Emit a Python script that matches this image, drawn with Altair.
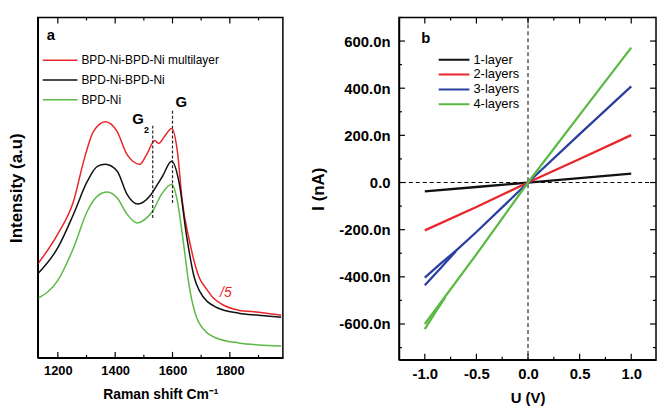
import altair as alt
import pandas as pd

FONT = "Liberation Sans"

# ---------------- Panel a: Raman spectra ----------------
series_a = ["BPD-Ni-BPD-Ni multilayer", "BPD-Ni-BPD-Ni", "BPD-Ni"]
colors_a = ["#e8262b", "#111111", "#5cb946"]

red_x = [1131, 1200, 1255, 1290, 1324, 1366, 1407, 1441, 1486, 1510, 1538, 1552, 1572, 1597, 1617, 1634, 1659, 1693, 1717, 1740, 1772, 1831, 1900, 1979]
red_y = [95, 125, 158, 198, 228, 238, 228, 205, 195, 205, 219, 216, 223, 231, 208, 158, 118, 81, 70, 61, 54, 48, 46, 43]

black_x = [1131, 1200, 1255, 1303, 1338, 1366, 1407, 1441, 1479, 1521, 1548, 1565, 1597, 1624, 1648, 1676, 1693, 1752, 1831, 1900, 1979]
black_y = [85, 111, 145, 178, 193, 195, 188, 165, 155, 163, 175, 183, 198, 175, 125, 81, 68, 51, 45, 43, 41]

green_x = [1131, 1200, 1255, 1303, 1338, 1372, 1407, 1441, 1476, 1510, 1531, 1562, 1597, 1617, 1634, 1659, 1693, 1752, 1831, 1900, 1979]
green_y = [60, 78, 111, 148, 163, 167, 161, 145, 136, 141, 148, 165, 175, 158, 125, 71, 35, 20, 15, 13, 12]

peak_x = [1531, 1600]
peak_y1 = [141, 156]
peak_y2 = [235, 250]

raman_ticks_major = [1200, 1400, 1600, 1800]
raman_ticks_minor = [1300, 1500, 1700, 1900]
raman_domain = [1130, 1985]
int_domain = [0, 343]

# ---------------- Panel b: I-V curves ----------------
series_b = ["1-layer", "2-layers", "3-layers", "4-layers"]
colors_b = ["#111111", "#e8262b", "#2b3fa0", "#5cb946"]

u1 = [-1.0, -0.5, 0.0, 0.5, 1.0]
i1 = [-38, -19, 0, 19, 38]
u2 = [-1.0, -0.5, 0.0, 0.5, 1.0]
i2 = [-203, -104, 0, 100, 201]
u3a = [-1.0, -0.85, -0.7, -0.5, 0.0, 0.5, 1.0]
i3a = [-403, -345, -290, -210, 0, 205, 408]
u3b = [-1.0, -0.85, -0.7]
i3b = [-436, -365, -292]
u4a = [-1.0, -0.5, 0.0, 0.5, 1.0]
i4a = [-600, -305, 0, 287, 572]
u4b = [-1.0, -0.9, -0.8]
i4b = [-622, -552, -486]

u_ticks_major = [-1.0, -0.5, 0.0, 0.5, 1.0]
u_ticks_minor = [-0.75, -0.25, 0.25, 0.75]
i_ticks_major = [-600, -400, -200, 0, 200, 400, 600]
i_ticks_minor = [-700, -500, -300, -100, 100, 300, 500, 700]
u_domain = [-1.25, 1.24]
i_domain = [-752, 700]

WA, HA = 247, 343
WB, HB = 259, 345

# ---------------- build tables ----------------
rows = []
for name, xs, ys in zip(series_a, [red_x, black_x, green_x], [red_y, black_y, green_y]):
    for x, y in zip(xs, ys):
        rows.append({"series": name, "shift": x, "intensity": y})
df_a = pd.DataFrame(rows)

rows = []
for name, sweep, us, iis in [("1-layer", "a", u1, i1), ("2-layers", "a", u2, i2),
                             ("3-layers", "a", u3a, i3a), ("3-layers", "b", u3b, i3b),
                             ("4-layers", "a", u4a, i4a), ("4-layers", "b", u4b, i4b)]:
    for u, i in zip(us, iis):
        rows.append({"series": name, "sweep": name + sweep, "U": u, "I": i})
df_b = pd.DataFrame(rows)

df_peaks = pd.DataFrame({"shift": peak_x, "y1": peak_y1, "y2": peak_y2})

# ---------------- scales and shared axes ----------------
xs_a = alt.Scale(domain=raman_domain, nice=False, zero=False)
ys_a = alt.Scale(domain=int_domain, nice=False, zero=False)
xs_b = alt.Scale(domain=u_domain, nice=False, zero=False)
ys_b = alt.Scale(domain=i_domain, nice=False, zero=False)

ax_xa = alt.Axis(orient="bottom", values=raman_ticks_major, format="d", ticks=False, tickSize=0,
                 domain=True, domainColor="black", domainWidth=1.5, grid=False, labelPadding=7,
                 labelFont=FONT, labelFontSize=13, labelFontWeight="bold", labelColor="black",
                 title="Raman shift Cm\u207b\u00b9", titleFont=FONT, titleFontSize=14,
                 titleFontWeight="bold", titleColor="black", titlePadding=10)
ax_ya = alt.Axis(orient="left", labels=False, ticks=False, tickSize=0, domain=True, domainColor="black",
                 domainWidth=1.5, grid=False,
                 title="Intensity (a.u)", titleFont=FONT, titleFontSize=17,
                 titleFontWeight="bold", titleColor="black", titlePadding=12)

num_expr = "(datum.value < 0 ? '-' : '') + format(abs(datum.value), '.1f')"
ax_xb = alt.Axis(orient="bottom", values=u_ticks_major, labelExpr=num_expr, ticks=False, tickSize=0,
                 domain=True, domainColor="black", domainWidth=1.5, grid=False, labelPadding=7,
                 labelFont=FONT, labelFontSize=15, labelFontWeight="bold", labelColor="black",
                 title="U (V)", titleFont=FONT, titleFontSize=15, titleFontWeight="bold",
                 titleColor="black", titlePadding=9)
ax_yb = alt.Axis(orient="left", values=i_ticks_major,
                 labelExpr="datum.value == 0 ? '0.0' : " + num_expr + " + 'n'",
                 ticks=False, tickSize=0, domain=True, domainColor="black", domainWidth=1.5,
                 grid=False, labelPadding=9,
                 labelFont=FONT, labelFontSize=15, labelFontWeight="bold", labelColor="black",
                 title="I (nA)", titleFont=FONT, titleFontSize=17, titleFontWeight="bold",
                 titleColor="black", titlePadding=11)


def frame(W, H):
    return alt.Chart(pd.DataFrame({"k": [0]})).mark_rect(
        filled=False, stroke="black", strokeWidth=1.5).encode(
        x=alt.value(0), x2=alt.value(W), y=alt.value(0), y2=alt.value(H))


def x_ticks(values, field, scale, axis, size, W, H):
    d = pd.DataFrame({field: values})
    bottom = alt.Chart(d).mark_rule(color="black", strokeWidth=1.2).encode(
        x=alt.X(field + ":Q", scale=scale, axis=axis), y=alt.value(H), y2=alt.value(H - size))
    top = alt.Chart(d).mark_rule(color="black", strokeWidth=1.2).encode(
        x=alt.X(field + ":Q", scale=scale, axis=axis), y=alt.value(0), y2=alt.value(size))
    return [bottom, top]


def y_ticks(values, field, scale, axis, size, W, H):
    d = pd.DataFrame({field: values})
    left = alt.Chart(d).mark_rule(color="black", strokeWidth=1.2).encode(
        y=alt.Y(field + ":Q", scale=scale, axis=axis), x=alt.value(0), x2=alt.value(size))
    right = alt.Chart(d).mark_rule(color="black", strokeWidth=1.2).encode(
        y=alt.Y(field + ":Q", scale=scale, axis=axis), x=alt.value(W), x2=alt.value(W - size))
    return [left, right]


# ---- panel a ----
lines_a = alt.Chart(df_a).mark_line(strokeWidth=1.5, interpolate="monotone").encode(
    x=alt.X("shift:Q", scale=xs_a, axis=ax_xa),
    y=alt.Y("intensity:Q", scale=ys_a, axis=ax_ya),
    color=alt.Color("series:N", scale=alt.Scale(domain=series_a, range=colors_a),
                    legend=alt.Legend(orient="none", legendX=4, legendY=36, title=None,
                                      symbolType="stroke", symbolSize=1225, symbolStrokeWidth=1.5,
                                      labelFont=FONT, labelFontSize=12, labelColor="black",
                                      padding=0, rowPadding=6, clipHeight=14, labelOffset=3)),
    order=alt.Order("shift:Q"),
)

peaks = alt.Chart(df_peaks).mark_rule(strokeDash=[3, 2], strokeWidth=1.2, color="#222").encode(
    x=alt.X("shift:Q", scale=xs_a, axis=ax_xa), y=alt.Y("y1:Q", scale=ys_a, axis=ax_ya), y2="y2:Q")

ann_a = pd.DataFrame({"shift": [1176, 1631, 1480, 1786],
                      "intensity": [325, 258, 241, 65],
                      "txt": ["a", "G", "G", "/5"],
                      "kind": ["b", "b", "b", "r"]})
text_bold = alt.Chart(ann_a[ann_a.kind == "b"]).mark_text(font=FONT, fontSize=15, fontWeight="bold",
                                                          color="black").encode(
    x=alt.X("shift:Q", scale=xs_a, axis=ax_xa), y=alt.Y("intensity:Q", scale=ys_a, axis=ax_ya), text="txt:N")
sub2 = alt.Chart(pd.DataFrame({"shift": [1509], "intensity": [230], "txt": ["2"]})).mark_text(
    font=FONT, fontSize=9, fontWeight="bold", color="black").encode(
    x=alt.X("shift:Q", scale=xs_a, axis=ax_xa), y=alt.Y("intensity:Q", scale=ys_a, axis=ax_ya), text="txt:N")
text_red = alt.Chart(ann_a[ann_a.kind == "r"]).mark_text(font=FONT, fontSize=14, fontStyle="italic",
                                                         color="#e8262b").encode(
    x=alt.X("shift:Q", scale=xs_a, axis=ax_xa), y=alt.Y("intensity:Q", scale=ys_a, axis=ax_ya), text="txt:N")

panel_a = alt.layer(
    lines_a, peaks, text_bold, sub2, text_red,
    *x_ticks(raman_ticks_major, "shift", xs_a, ax_xa, 6, WA, HA),
    *x_ticks(raman_ticks_minor, "shift", xs_a, ax_xa, 3, WA, HA),
    frame(WA, HA),
).properties(width=WA, height=HA)

# ---- panel b ----
lines_b = alt.Chart(df_b).mark_line(strokeWidth=2.3).encode(
    x=alt.X("U:Q", scale=xs_b, axis=ax_xb),
    y=alt.Y("I:Q", scale=ys_b, axis=ax_yb),
    color=alt.Color("series:N", scale=alt.Scale(domain=series_b, range=colors_b),
                    legend=alt.Legend(orient="none", legendX=39, legendY=36, title=None,
                                      symbolType="stroke", symbolSize=961, symbolStrokeWidth=2,
                                      labelFont=FONT, labelFontSize=13, labelColor="black",
                                      padding=0, rowPadding=1, clipHeight=13, labelOffset=3)),
    detail="sweep:N",
    order=alt.Order("U:Q"),
)

zero_h = alt.Chart(pd.DataFrame({"I": [0]})).mark_rule(strokeDash=[4, 3], strokeWidth=1, color="black").encode(
    y=alt.Y("I:Q", scale=ys_b, axis=ax_yb))
zero_v = alt.Chart(pd.DataFrame({"U": [0]})).mark_rule(strokeDash=[4, 3], strokeWidth=1, color="black").encode(
    x=alt.X("U:Q", scale=xs_b, axis=ax_xb))
label_b = alt.Chart(pd.DataFrame({"U": [-0.99], "I": [612], "txt": ["b"]})).mark_text(
    font=FONT, fontSize=15, fontWeight="bold", color="black").encode(
    x=alt.X("U:Q", scale=xs_b, axis=ax_xb), y=alt.Y("I:Q", scale=ys_b, axis=ax_yb), text="txt:N")

panel_b = alt.layer(
    zero_h, zero_v, lines_b, label_b,
    *x_ticks(u_ticks_major, "U", xs_b, ax_xb, 6, WB, HB),
    *x_ticks(u_ticks_minor, "U", xs_b, ax_xb, 3, WB, HB),
    *y_ticks(i_ticks_major, "I", ys_b, ax_yb, 6, WB, HB),
    *y_ticks(i_ticks_minor, "I", ys_b, ax_yb, 3, WB, HB),
    frame(WB, HB),
).properties(width=WB, height=HB)

chart = alt.hconcat(panel_a, panel_b, spacing=25).resolve_scale(color="independent").properties(
    padding={"left": 0, "top": 7, "right": 0, "bottom": 0}
).configure_view(stroke=None)

chart.save("out.html", embed_options={"renderer": "svg", "actions": False})
